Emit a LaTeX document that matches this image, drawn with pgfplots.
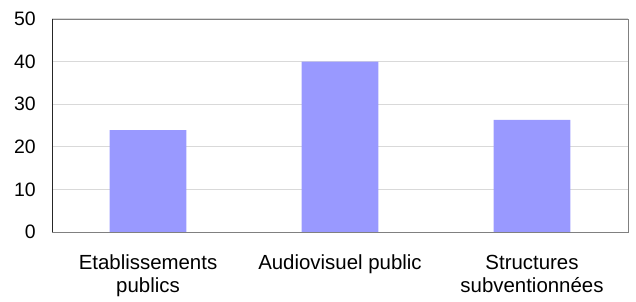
\documentclass[border=0pt]{standalone}
\usepackage{pgfplots}
\pgfplotsset{compat=1.18}
\usepackage{fontspec}
\setmainfont{Liberation Sans}
\definecolor{barblue}{HTML}{9999FF}
\definecolor{gridgray}{HTML}{D9D9D9}
\definecolor{framegray}{HTML}{808080}
\begin{document}
\begin{tikzpicture}
\begin{axis}[
  scale only axis,
  width=576bp, height=213bp,
  xmin=-0.5, xmax=2.5,
  ymin=0, ymax=50,
  ytick={0,10,20,30,40,50},
  xtick={0,1,2},
  xticklabels={{Etablissements\\publics},{Audiovisuel public},{Structures\\subventionnées}},
  major tick length=0pt,
  ymajorgrids,
  grid style={gridgray, line width=1pt},
  axis line style={framegray, line width=0.8pt},
  /pgf/number format/assume math mode=true,
  yticklabel style={font=\fontsize{19.5}{22}\selectfont, inner sep=0pt, anchor=east, xshift=-16bp},
  xticklabel style={font=\fontsize{20.5}{23}\selectfont, inner sep=0pt, anchor=north, align=center, yshift=-23bp},
  ybar, bar width=0.4,
]
\addplot[fill=barblue, draw=none] coordinates {(0,23.9) (1,40) (2,26.3)};
\draw[black!85, line width=0.8pt] (rel axis cs:0,1) -- (rel axis cs:0,0) -- (rel axis cs:1,0);
\end{axis}
\path (current axis.south west) ++(-52bp,-70bp) rectangle ([shift={(8bp,19bp)}]current axis.north east);
\end{tikzpicture}
\end{document}
